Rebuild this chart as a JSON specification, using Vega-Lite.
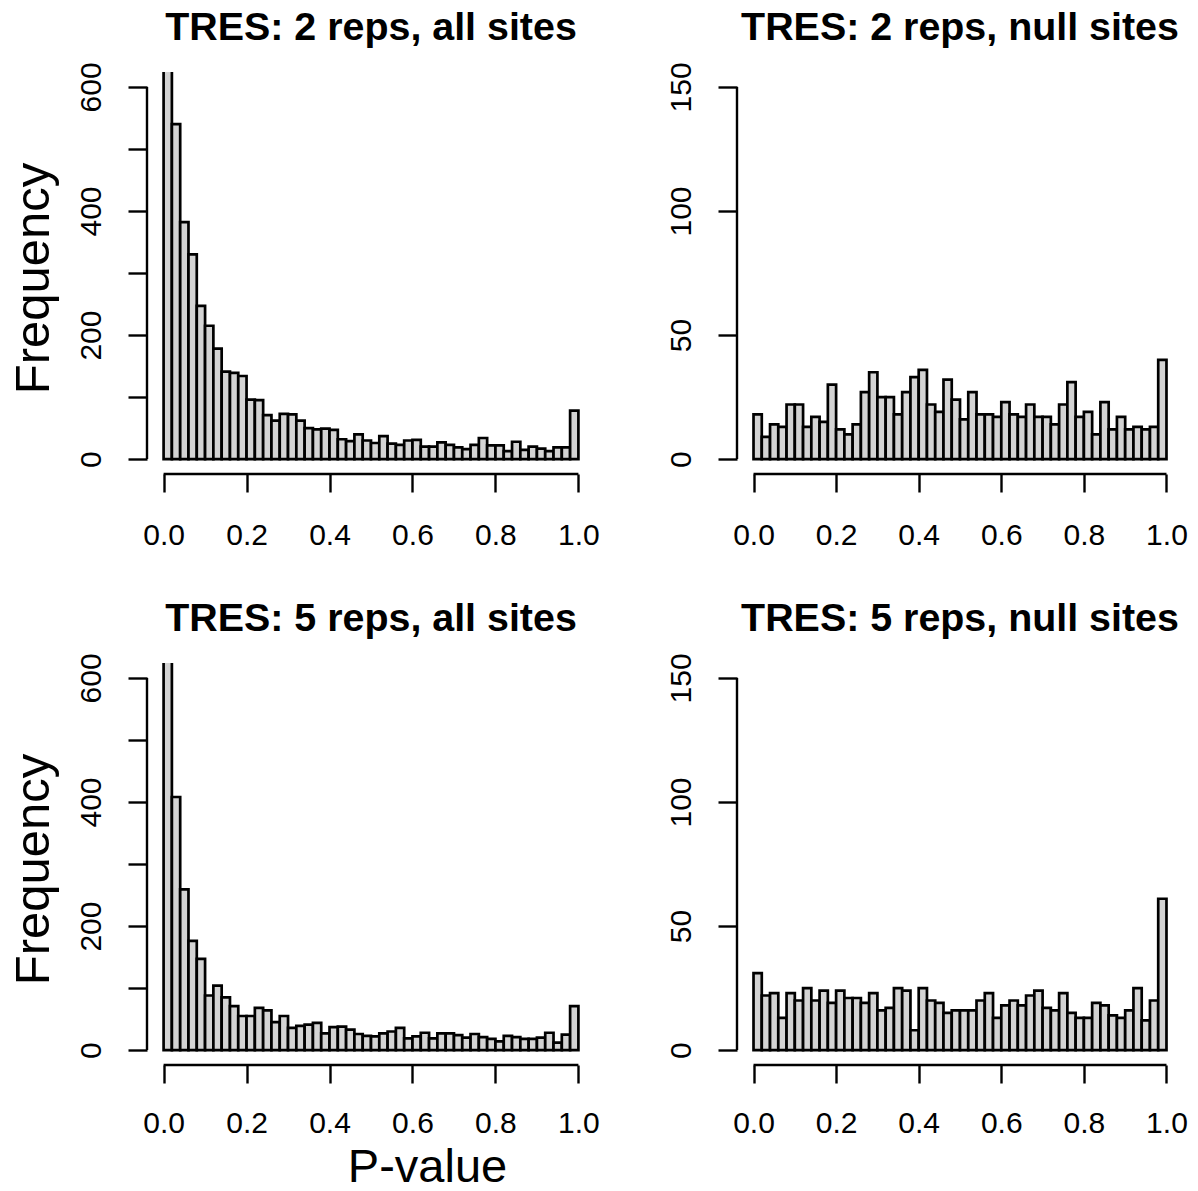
{
  "$schema": "https://vega.github.io/schema/vega-lite/v6.json",
  "background": "white",
  "padding": {"left": 9, "top": 8, "right": 5, "bottom": 5},
  "autosize": {"type": "pad"},
  "config": {
    "view": {"stroke": null},
    "font": "Liberation Sans",
    "axis": {"grid": false, "domain": false, "ticks": true, "tickColor": "black", "tickWidth": 2.4, "labelFont": "Liberation Sans", "labelFontSize": 30, "labelColor": "black", "labelFlush": false, "labelOverlap": false, "labelBound": false, "titleFont": "Liberation Sans", "titleFontSize": 49, "titleFontWeight": "normal", "titleColor": "black"},
    "axisX": {"tickSize": 18, "labelPadding": 52, "labelBaseline": "alphabetic", "labelAngle": 0, "labelAlign": "center"},
    "axisY": {"tickSize": 19, "labelPadding": 28, "labelAngle": -90, "labelAlign": "center", "labelBaseline": "alphabetic"},
    "title": {"font": "Liberation Sans", "fontSize": 39.4, "fontWeight": "bold", "color": "black", "frame": "group", "anchor": "middle", "baseline": "alphabetic", "offset": 13}
  },
  "datasets": {
    "tl": [
      {"lo":0,"hi":0.02,"n":950},{"lo":0.02,"hi":0.04,"n":540},{"lo":0.04,"hi":0.06,"n":382},{"lo":0.06,"hi":0.08,"n":330},{"lo":0.08,"hi":0.1,"n":247},
      {"lo":0.1,"hi":0.12,"n":215},{"lo":0.12,"hi":0.14,"n":178},{"lo":0.14,"hi":0.16,"n":141},{"lo":0.16,"hi":0.18,"n":139},{"lo":0.18,"hi":0.2,"n":134},
      {"lo":0.2,"hi":0.22,"n":96},{"lo":0.22,"hi":0.24,"n":95},{"lo":0.24,"hi":0.26,"n":71},{"lo":0.26,"hi":0.28,"n":62},{"lo":0.28,"hi":0.3,"n":73},
      {"lo":0.3,"hi":0.32,"n":72},{"lo":0.32,"hi":0.34,"n":62},{"lo":0.34,"hi":0.36,"n":50},{"lo":0.36,"hi":0.38,"n":48},{"lo":0.38,"hi":0.4,"n":49},
      {"lo":0.4,"hi":0.42,"n":47},{"lo":0.42,"hi":0.44,"n":32},{"lo":0.44,"hi":0.46,"n":29},{"lo":0.46,"hi":0.48,"n":40},{"lo":0.48,"hi":0.5,"n":30},
      {"lo":0.5,"hi":0.52,"n":26},{"lo":0.52,"hi":0.54,"n":37},{"lo":0.54,"hi":0.56,"n":25},{"lo":0.56,"hi":0.58,"n":23},{"lo":0.58,"hi":0.6,"n":30},
      {"lo":0.6,"hi":0.62,"n":31},{"lo":0.62,"hi":0.64,"n":20},{"lo":0.64,"hi":0.66,"n":20},{"lo":0.66,"hi":0.68,"n":27},{"lo":0.68,"hi":0.7,"n":23},
      {"lo":0.7,"hi":0.72,"n":19},{"lo":0.72,"hi":0.74,"n":16},{"lo":0.74,"hi":0.76,"n":23},{"lo":0.76,"hi":0.78,"n":34},{"lo":0.78,"hi":0.8,"n":22},
      {"lo":0.8,"hi":0.82,"n":22},{"lo":0.82,"hi":0.84,"n":13},{"lo":0.84,"hi":0.86,"n":28},{"lo":0.86,"hi":0.88,"n":15},{"lo":0.88,"hi":0.9,"n":20},
      {"lo":0.9,"hi":0.92,"n":17},{"lo":0.92,"hi":0.94,"n":13},{"lo":0.94,"hi":0.96,"n":19},{"lo":0.96,"hi":0.98,"n":19},{"lo":0.98,"hi":1,"n":78}
    ],
    "tr": [
      {"lo":0,"hi":0.02,"n":18},{"lo":0.02,"hi":0.04,"n":9},{"lo":0.04,"hi":0.06,"n":14},{"lo":0.06,"hi":0.08,"n":13},{"lo":0.08,"hi":0.1,"n":22},
      {"lo":0.1,"hi":0.12,"n":22},{"lo":0.12,"hi":0.14,"n":13},{"lo":0.14,"hi":0.16,"n":17},{"lo":0.16,"hi":0.18,"n":15},{"lo":0.18,"hi":0.2,"n":30},
      {"lo":0.2,"hi":0.22,"n":12},{"lo":0.22,"hi":0.24,"n":10},{"lo":0.24,"hi":0.26,"n":14},{"lo":0.26,"hi":0.28,"n":27},{"lo":0.28,"hi":0.3,"n":35},
      {"lo":0.3,"hi":0.32,"n":25},{"lo":0.32,"hi":0.34,"n":25},{"lo":0.34,"hi":0.36,"n":18},{"lo":0.36,"hi":0.38,"n":27},{"lo":0.38,"hi":0.4,"n":33},
      {"lo":0.4,"hi":0.42,"n":36},{"lo":0.42,"hi":0.44,"n":22},{"lo":0.44,"hi":0.46,"n":19},{"lo":0.46,"hi":0.48,"n":32},{"lo":0.48,"hi":0.5,"n":24},
      {"lo":0.5,"hi":0.52,"n":16},{"lo":0.52,"hi":0.54,"n":27},{"lo":0.54,"hi":0.56,"n":18},{"lo":0.56,"hi":0.58,"n":18},{"lo":0.58,"hi":0.6,"n":17},
      {"lo":0.6,"hi":0.62,"n":23},{"lo":0.62,"hi":0.64,"n":18},{"lo":0.64,"hi":0.66,"n":17},{"lo":0.66,"hi":0.68,"n":22},{"lo":0.68,"hi":0.7,"n":17},
      {"lo":0.7,"hi":0.72,"n":17},{"lo":0.72,"hi":0.74,"n":14},{"lo":0.74,"hi":0.76,"n":22},{"lo":0.76,"hi":0.78,"n":31},{"lo":0.78,"hi":0.8,"n":17},
      {"lo":0.8,"hi":0.82,"n":19},{"lo":0.82,"hi":0.84,"n":10},{"lo":0.84,"hi":0.86,"n":23},{"lo":0.86,"hi":0.88,"n":12},{"lo":0.88,"hi":0.9,"n":17},
      {"lo":0.9,"hi":0.92,"n":12},{"lo":0.92,"hi":0.94,"n":13},{"lo":0.94,"hi":0.96,"n":12},{"lo":0.96,"hi":0.98,"n":13},{"lo":0.98,"hi":1,"n":40}
    ],
    "bl": [
      {"lo":0,"hi":0.02,"n":950},{"lo":0.02,"hi":0.04,"n":408},{"lo":0.04,"hi":0.06,"n":259},{"lo":0.06,"hi":0.08,"n":176},{"lo":0.08,"hi":0.1,"n":147},
      {"lo":0.1,"hi":0.12,"n":88},{"lo":0.12,"hi":0.14,"n":104},{"lo":0.14,"hi":0.16,"n":85},{"lo":0.16,"hi":0.18,"n":71},{"lo":0.18,"hi":0.2,"n":55},
      {"lo":0.2,"hi":0.22,"n":55},{"lo":0.22,"hi":0.24,"n":68},{"lo":0.24,"hi":0.26,"n":64},{"lo":0.26,"hi":0.28,"n":45},{"lo":0.28,"hi":0.3,"n":55},
      {"lo":0.3,"hi":0.32,"n":36},{"lo":0.32,"hi":0.34,"n":39},{"lo":0.34,"hi":0.36,"n":41},{"lo":0.36,"hi":0.38,"n":44},{"lo":0.38,"hi":0.4,"n":27},
      {"lo":0.4,"hi":0.42,"n":37},{"lo":0.42,"hi":0.44,"n":38},{"lo":0.44,"hi":0.46,"n":33},{"lo":0.46,"hi":0.48,"n":26},{"lo":0.48,"hi":0.5,"n":23},
      {"lo":0.5,"hi":0.52,"n":22},{"lo":0.52,"hi":0.54,"n":27},{"lo":0.54,"hi":0.56,"n":30},{"lo":0.56,"hi":0.58,"n":36},{"lo":0.58,"hi":0.6,"n":19},
      {"lo":0.6,"hi":0.62,"n":22},{"lo":0.62,"hi":0.64,"n":28},{"lo":0.64,"hi":0.66,"n":19},{"lo":0.66,"hi":0.68,"n":27},{"lo":0.68,"hi":0.7,"n":27},
      {"lo":0.7,"hi":0.72,"n":24},{"lo":0.72,"hi":0.74,"n":20},{"lo":0.74,"hi":0.76,"n":26},{"lo":0.76,"hi":0.78,"n":21},{"lo":0.78,"hi":0.8,"n":18},
      {"lo":0.8,"hi":0.82,"n":14},{"lo":0.82,"hi":0.84,"n":23},{"lo":0.84,"hi":0.86,"n":21},{"lo":0.86,"hi":0.88,"n":18},{"lo":0.88,"hi":0.9,"n":18},
      {"lo":0.9,"hi":0.92,"n":20},{"lo":0.92,"hi":0.94,"n":28},{"lo":0.94,"hi":0.96,"n":12},{"lo":0.96,"hi":0.98,"n":25},{"lo":0.98,"hi":1,"n":71}
    ],
    "br": [
      {"lo":0,"hi":0.02,"n":31},{"lo":0.02,"hi":0.04,"n":22},{"lo":0.04,"hi":0.06,"n":23},{"lo":0.06,"hi":0.08,"n":13},{"lo":0.08,"hi":0.1,"n":23},
      {"lo":0.1,"hi":0.12,"n":20},{"lo":0.12,"hi":0.14,"n":25},{"lo":0.14,"hi":0.16,"n":20},{"lo":0.16,"hi":0.18,"n":24},{"lo":0.18,"hi":0.2,"n":19},
      {"lo":0.2,"hi":0.22,"n":24},{"lo":0.22,"hi":0.24,"n":21},{"lo":0.24,"hi":0.26,"n":21},{"lo":0.26,"hi":0.28,"n":19},{"lo":0.28,"hi":0.3,"n":23},
      {"lo":0.3,"hi":0.32,"n":16},{"lo":0.32,"hi":0.34,"n":17},{"lo":0.34,"hi":0.36,"n":25},{"lo":0.36,"hi":0.38,"n":24},{"lo":0.38,"hi":0.4,"n":8},
      {"lo":0.4,"hi":0.42,"n":25},{"lo":0.42,"hi":0.44,"n":20},{"lo":0.44,"hi":0.46,"n":19},{"lo":0.46,"hi":0.48,"n":15},{"lo":0.48,"hi":0.5,"n":16},
      {"lo":0.5,"hi":0.52,"n":16},{"lo":0.52,"hi":0.54,"n":16},{"lo":0.54,"hi":0.56,"n":20},{"lo":0.56,"hi":0.58,"n":23},{"lo":0.58,"hi":0.6,"n":13},
      {"lo":0.6,"hi":0.62,"n":18},{"lo":0.62,"hi":0.64,"n":20},{"lo":0.64,"hi":0.66,"n":18},{"lo":0.66,"hi":0.68,"n":22},{"lo":0.68,"hi":0.7,"n":24},
      {"lo":0.7,"hi":0.72,"n":17},{"lo":0.72,"hi":0.74,"n":16},{"lo":0.74,"hi":0.76,"n":23},{"lo":0.76,"hi":0.78,"n":15},{"lo":0.78,"hi":0.8,"n":13},
      {"lo":0.8,"hi":0.82,"n":13},{"lo":0.82,"hi":0.84,"n":19},{"lo":0.84,"hi":0.86,"n":18},{"lo":0.86,"hi":0.88,"n":14},{"lo":0.88,"hi":0.9,"n":13},
      {"lo":0.9,"hi":0.92,"n":16},{"lo":0.92,"hi":0.94,"n":25},{"lo":0.94,"hi":0.96,"n":12},{"lo":0.96,"hi":0.98,"n":20},{"lo":0.98,"hi":1,"n":61}
    ]
  },
  "columns": 2,
  "spacing": {"row": 189, "column": 142},
  "bounds": "flush",
  "concat": [
    {
      "width": 448, "height": 402,
      "title": {"text": "TRES: 2 reps, all sites"},
      "layer": [
        {
          "data": {"name": "tl"},
          "mark": {"type": "bar", "fill": "#d3d3d3", "stroke": "black", "strokeWidth": 2.7, "clip": true},
          "encoding": {
            "x": {"field": "lo", "type": "quantitative", "scale": {"domain": [-0.04, 1.04], "nice": false, "zero": false},
                  "axis": {"values": [0, 0.2, 0.4, 0.6, 0.8, 1], "format": ".1f", "title": null}},
            "x2": {"field": "hi"},
            "y": {"field": "n", "type": "quantitative", "scale": {"domain": [-24, 624], "nice": false, "zero": false},
                  "axis": {"values": [0, 100, 200, 300, 400, 500, 600], "labelExpr": "datum.value % 200 == 0 ? datum.label : ''", "title": "Frequency", "titleX": -99, "titleY": 206, "titleAngle": -90, "titleAlign": "center", "titleBaseline": "alphabetic"}},
            "y2": {"datum": 0}
          }
        },
        {"data": {"values": [{}]}, "mark": {"type": "rule", "color": "black", "strokeWidth": 2.4}, "encoding": {"x": {"datum": -0.04}, "y": {"datum": 0}, "y2": {"datum": 600}}},
        {"data": {"values": [{}]}, "mark": {"type": "rule", "color": "black", "strokeWidth": 2.4}, "encoding": {"y": {"datum": -24}, "x": {"datum": 0}, "x2": {"datum": 1}}}
      ]
    },
    {
      "width": 446, "height": 402,
      "title": {"text": "TRES: 2 reps, null sites"},
      "layer": [
        {
          "data": {"name": "tr"},
          "mark": {"type": "bar", "fill": "#d3d3d3", "stroke": "black", "strokeWidth": 2.7, "clip": true},
          "encoding": {
            "x": {"field": "lo", "type": "quantitative", "scale": {"domain": [-0.04, 1.04], "nice": false, "zero": false},
                  "axis": {"values": [0, 0.2, 0.4, 0.6, 0.8, 1], "format": ".1f", "title": null}},
            "x2": {"field": "hi"},
            "y": {"field": "n", "type": "quantitative", "scale": {"domain": [-6, 156], "nice": false, "zero": false},
                  "axis": {"values": [0, 50, 100, 150], "title": null}},
            "y2": {"datum": 0}
          }
        },
        {"data": {"values": [{}]}, "mark": {"type": "rule", "color": "black", "strokeWidth": 2.4}, "encoding": {"x": {"datum": -0.04}, "y": {"datum": 0}, "y2": {"datum": 150}}},
        {"data": {"values": [{}]}, "mark": {"type": "rule", "color": "black", "strokeWidth": 2.4}, "encoding": {"y": {"datum": -6}, "x": {"datum": 0}, "x2": {"datum": 1}}}
      ]
    },
    {
      "width": 448, "height": 402,
      "title": {"text": "TRES: 5 reps, all sites"},
      "layer": [
        {
          "data": {"name": "bl"},
          "mark": {"type": "bar", "fill": "#d3d3d3", "stroke": "black", "strokeWidth": 2.7, "clip": true},
          "encoding": {
            "x": {"field": "lo", "type": "quantitative", "scale": {"domain": [-0.04, 1.04], "nice": false, "zero": false},
                  "axis": {"values": [0, 0.2, 0.4, 0.6, 0.8, 1], "format": ".1f", "labelPadding": 49, "title": "P-value", "titleX": 280, "titleY": 116, "titleFontSize": 47, "titleAlign": "center", "titleBaseline": "alphabetic", "titleAngle": 0}},
            "x2": {"field": "hi"},
            "y": {"field": "n", "type": "quantitative", "scale": {"domain": [-24, 624], "nice": false, "zero": false},
                  "axis": {"values": [0, 100, 200, 300, 400, 500, 600], "labelExpr": "datum.value % 200 == 0 ? datum.label : ''", "title": "Frequency", "titleX": -99, "titleY": 206, "titleAngle": -90, "titleAlign": "center", "titleBaseline": "alphabetic"}},
            "y2": {"datum": 0}
          }
        },
        {"data": {"values": [{}]}, "mark": {"type": "rule", "color": "black", "strokeWidth": 2.4}, "encoding": {"x": {"datum": -0.04}, "y": {"datum": 0}, "y2": {"datum": 600}}},
        {"data": {"values": [{}]}, "mark": {"type": "rule", "color": "black", "strokeWidth": 2.4}, "encoding": {"y": {"datum": -24}, "x": {"datum": 0}, "x2": {"datum": 1}}}
      ]
    },
    {
      "width": 446, "height": 402,
      "title": {"text": "TRES: 5 reps, null sites"},
      "layer": [
        {
          "data": {"name": "br"},
          "mark": {"type": "bar", "fill": "#d3d3d3", "stroke": "black", "strokeWidth": 2.7, "clip": true},
          "encoding": {
            "x": {"field": "lo", "type": "quantitative", "scale": {"domain": [-0.04, 1.04], "nice": false, "zero": false},
                  "axis": {"values": [0, 0.2, 0.4, 0.6, 0.8, 1], "format": ".1f", "labelPadding": 49, "title": null}},
            "x2": {"field": "hi"},
            "y": {"field": "n", "type": "quantitative", "scale": {"domain": [-6, 156], "nice": false, "zero": false},
                  "axis": {"values": [0, 50, 100, 150], "title": null}},
            "y2": {"datum": 0}
          }
        },
        {"data": {"values": [{}]}, "mark": {"type": "rule", "color": "black", "strokeWidth": 2.4}, "encoding": {"x": {"datum": -0.04}, "y": {"datum": 0}, "y2": {"datum": 150}}},
        {"data": {"values": [{}]}, "mark": {"type": "rule", "color": "black", "strokeWidth": 2.4}, "encoding": {"y": {"datum": -6}, "x": {"datum": 0}, "x2": {"datum": 1}}}
      ]
    }
  ]
}
